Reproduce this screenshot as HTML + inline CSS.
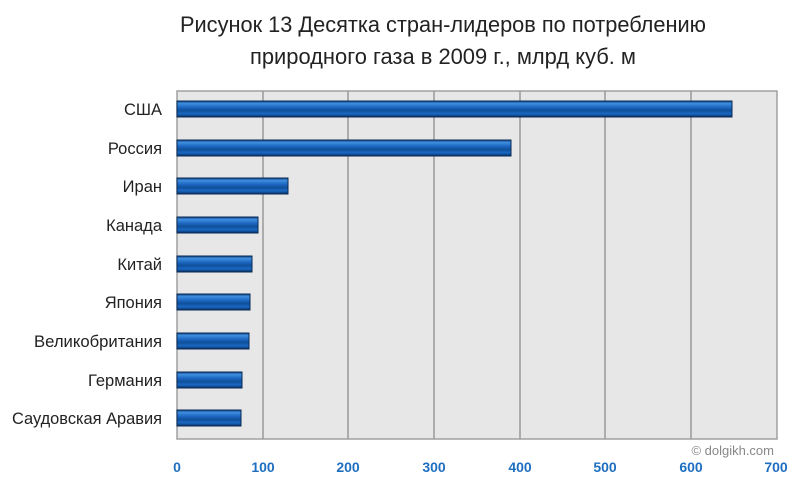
<!DOCTYPE html><html><head><style>body{margin:0;background:#fff}</style></head><body>
<svg width="800" height="498" xmlns="http://www.w3.org/2000/svg" font-family="Liberation Sans, sans-serif">
<defs><linearGradient id="g" x1="0" y1="0" x2="0" y2="1">
<stop offset="0" stop-color="#0d3d7a"/><stop offset="0.15" stop-color="#3f8fe0"/><stop offset="0.4" stop-color="#1c66c0"/><stop offset="0.6" stop-color="#0f4f9a"/><stop offset="0.8" stop-color="#1a68c4"/><stop offset="1" stop-color="#0a2f60"/></linearGradient></defs>
<text x="180" y="32" font-size="22" fill="#222" textLength="526" lengthAdjust="spacingAndGlyphs">Рисунок 13 Десятка стран-лидеров по потреблению</text>
<text x="250" y="64" font-size="22" fill="#222" textLength="386" lengthAdjust="spacingAndGlyphs">природного газа в 2009 г., млрд куб. м</text>
<rect x="177" y="91" width="600" height="348" fill="#e7e7e7" stroke="#a0a0a0" stroke-width="1.5"/>
<g stroke="#999" stroke-width="1.5">
<line x1="263" y1="91" x2="263" y2="439"/><line x1="348" y1="91" x2="348" y2="439"/><line x1="434" y1="91" x2="434" y2="439"/><line x1="520" y1="91" x2="520" y2="439"/><line x1="605" y1="91" x2="605" y2="439"/><line x1="691" y1="91" x2="691" y2="439"/></g>
<g stroke="#0a2a55" stroke-width="1" fill="url(#g)">
<rect x="177" y="101" width="555" height="16"/>
<rect x="177" y="140" width="334" height="16"/>
<rect x="177" y="178" width="111" height="16"/>
<rect x="177" y="217" width="81" height="16"/>
<rect x="177" y="256" width="75" height="16"/>
<rect x="177" y="294" width="73" height="16"/>
<rect x="177" y="333" width="72" height="16"/>
<rect x="177" y="372" width="65" height="16"/>
<rect x="177" y="410" width="64" height="16"/></g>
<g font-size="16.5" fill="#222" text-anchor="end">
<text x="162" y="115">США</text><text x="162" y="154">Россия</text><text x="162" y="192">Иран</text><text x="162" y="231">Канада</text><text x="162" y="270">Китай</text><text x="162" y="308">Япония</text><text x="162" y="347" textLength="128" lengthAdjust="spacingAndGlyphs">Великобритания</text><text x="162" y="386">Германия</text><text x="162" y="424" textLength="150" lengthAdjust="spacingAndGlyphs">Саудовская Аравия</text></g>
<text x="774" y="455" font-size="13" fill="#888" text-anchor="end">© dolgikh.com</text>
<g font-size="14" font-weight="bold" fill="#1f6fc0" text-anchor="middle">
<text x="177" y="472">0</text><text x="263" y="472">100</text><text x="348" y="472">200</text><text x="434" y="472">300</text><text x="520" y="472">400</text><text x="605" y="472">500</text><text x="691" y="472">600</text><text x="776" y="472">700</text></g>
</svg></body></html>
